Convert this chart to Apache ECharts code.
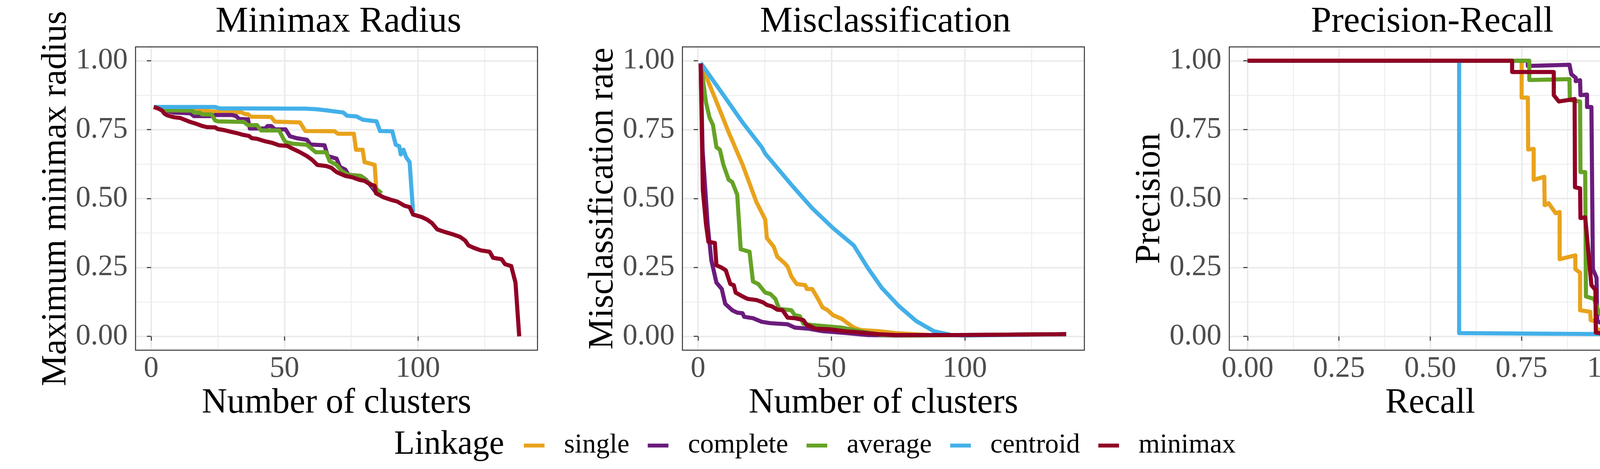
<!DOCTYPE html>
<html>
<head>
<meta charset="utf-8">
<script src="https://cdn.jsdelivr.net/npm/echarts@6/dist/echarts.min.js"></script>
<style>
  html, body { margin: 0; padding: 0; background: #fff; }
  #main { width: 4200px; height: 1200px; }
</style>
</head>
<body>
<div id="main"></div>
<script>
// linkage names + colours (legend order)
const linkages = ['single', 'complete', 'average', 'centroid', 'minimax']
const colors = ['#E8A31C', '#6B1C7C', '#66A226', '#43B0E8', '#900024']

// panel 1: maximum minimax radius vs number of clusters  [k, radius]
const radiusSingle = [[1,0.832],[16,0.82],[25,0.815],[33.8,0.813],[35.3,0.806],[36.3,0.806],[37.2,0.797],[45,0.796],[46.4,0.779],[55.8,0.776],[57.8,0.745],[68.8,0.744],[70,0.735],[76,0.735],[76.8,0.677],[79.3,0.677],[80,0.632],[83.8,0.622],[84.5,0.52]]
const radiusComplete = [[1,0.832],[5,0.82],[8.5,0.812],[14.8,0.809],[16,0.799],[23,0.799],[24,0.803],[30.4,0.803],[31.9,0.799],[32.9,0.789],[36.3,0.787],[37,0.754],[42.7,0.754],[43.7,0.763],[45,0.763],[46.4,0.751],[50.4,0.751],[52,0.726],[54.5,0.719],[58.4,0.713],[59.7,0.696],[65,0.693],[66.2,0.654],[69.5,0.645],[70.8,0.614],[72.8,0.605],[74,0.586],[78.6,0.582],[80.6,0.568],[84.5,0.52]]
const radiusAverage = [[1,0.832],[5,0.82],[15.3,0.819],[16.3,0.811],[18.2,0.811],[19.2,0.805],[22.6,0.805],[24,0.783],[25,0.78],[34.7,0.778],[36.3,0.766],[39.7,0.766],[41.2,0.747],[48,0.747],[49.5,0.718],[50.4,0.705],[53,0.699],[58.4,0.695],[61.7,0.668],[65.6,0.668],[66.9,0.636],[69.5,0.622],[71.4,0.6],[74,0.586],[78.6,0.582],[86.4,0.519]]
const radiusCentroid = [[1,0.832],[24,0.832],[25.5,0.827],[58,0.826],[62,0.824],[65.6,0.82],[72,0.812],[73.5,0.8],[77,0.798],[79.3,0.786],[84.5,0.78],[85.8,0.745],[90.4,0.744],[91.7,0.695],[93,0.69],[93.6,0.66],[94.6,0.677],[95.6,0.65],[96.9,0.632],[98.2,0.451]]
const radiusMinimax = [[1,0.832],[2.5,0.827],[4,0.82],[5,0.808],[6,0.802],[8.5,0.795],[11,0.792],[12,0.788],[13.3,0.783],[14.3,0.779],[16.3,0.773],[17.2,0.77],[19.2,0.763],[21,0.759],[24,0.758],[25,0.752],[27.5,0.748],[30,0.742],[32.3,0.737],[34,0.732],[36.7,0.727],[37.7,0.719],[39.6,0.717],[43,0.707],[45.4,0.702],[48,0.693],[51,0.691],[53,0.681],[55.8,0.668],[58.4,0.654],[60.4,0.64],[62.3,0.622],[65.6,0.618],[67.5,0.612],[69.5,0.596],[72.8,0.582],[75.4,0.577],[78,0.568],[80,0.564],[82,0.552],[83.8,0.546],[84.3,0.519],[87,0.505],[89.7,0.496],[92.3,0.489],[95,0.474],[96.9,0.469],[98.2,0.442],[101.4,0.433],[103.4,0.424],[105.3,0.411],[107.3,0.388],[110,0.379],[113.2,0.37],[115.8,0.361],[117.7,0.348],[119,0.33],[121,0.321],[123.6,0.312],[126.9,0.307],[128.2,0.285],[131.4,0.28],[132.7,0.262],[135,0.255],[136.6,0.195],[138,0]]

// panel 2: misclassification rate vs number of clusters  [k, rate]
const misSingle = [[1,0.99],[6.3,0.866],[11.5,0.74],[16.7,0.623],[21.9,0.487],[25.2,0.424],[25.8,0.357],[28.4,0.325],[29.7,0.289],[32.3,0.267],[33.6,0.253],[35,0.217],[37,0.19],[40.2,0.186],[40.8,0.172],[42.8,0.172],[44.7,0.141],[46.7,0.105],[48.6,0.095],[50.6,0.077],[53.8,0.064],[55.8,0.05],[58.4,0.032],[61,0.023],[67.5,0.019],[74,0.012],[80.6,0.008],[87,0.005],[100,0.004],[138,0.008]]
const misComplete = [[1,0.99],[1.7,0.677],[3.6,0.406],[5,0.276],[6.9,0.195],[8.9,0.172],[10.2,0.118],[12.8,0.095],[14.7,0.086],[16.7,0.084],[17.3,0.071],[20.6,0.066],[23.9,0.053],[27.1,0.048],[33.6,0.044],[36.3,0.032],[41.5,0.028],[46.7,0.019],[55.8,0.012],[63.6,0.005],[74,0.003],[138,0.008]]
const misAverage = [[1,0.99],[3,0.848],[4.3,0.794],[5.6,0.767],[6.9,0.686],[8.2,0.677],[9.5,0.623],[11.5,0.568],[12.8,0.56],[14.7,0.514],[16,0.316],[19.3,0.307],[20.6,0.199],[22.6,0.19],[25.2,0.159],[27.1,0.154],[29,0.136],[30.4,0.1],[35,0.095],[36.3,0.077],[38.2,0.073],[39.5,0.046],[42.8,0.041],[48,0.037],[53.8,0.032],[58.4,0.023],[63.6,0.014],[68.8,0.005],[80,0.003],[138,0.008]]
const misCentroid = [[1,0.992],[8.9,0.884],[16.7,0.776],[23.9,0.686],[25.2,0.663],[35,0.55],[42.8,0.465],[50.6,0.393],[58.4,0.33],[63.6,0.249],[68.8,0.177],[75.4,0.109],[81.9,0.055],[88.4,0.019],[94.9,0.005],[100,0.003],[138,0.008]]
const misMinimax = [[1,0.99],[1.8,0.532],[3,0.406],[3.9,0.343],[6.3,0.339],[6.9,0.258],[8.9,0.249],[10.4,0.24],[12.1,0.19],[13.4,0.186],[14.1,0.159],[16.7,0.145],[18.6,0.136],[21.9,0.132],[24.5,0.123],[25.8,0.114],[27.7,0.109],[29.7,0.097],[31.7,0.095],[33.6,0.068],[36.3,0.066],[39.5,0.059],[40.8,0.041],[42.1,0.037],[44,0.028],[49.3,0.026],[54.5,0.019],[61,0.014],[67.5,0.008],[74,0.005],[100,0.005],[138,0.008]]

// panel 3: precision vs recall  [recall, precision]
const prSingle = [[0,1],[0.75,1],[0.75,0.866],[0.767,0.866],[0.768,0.678],[0.783,0.68],[0.783,0.568],[0.812,0.579],[0.813,0.476],[0.824,0.483],[0.843,0.447],[0.854,0.451],[0.854,0.28],[0.897,0.294],[0.897,0.244],[0.91,0.231],[0.91,0.095],[0.938,0.089],[0.939,0.059],[0.952,0.055],[0.955,0.025],[1,0.019]]
const prComplete = [[0,1],[0.767,1],[0.767,0.981],[0.881,0.985],[0.886,0.951],[0.898,0.938],[0.898,0.926],[0.91,0.929],[0.911,0.875],[0.929,0.877],[0.929,0.832],[0.941,0.832],[0.945,0.244],[0.955,0.213],[0.957,0.055],[0.981,0.041],[0.99,0.023]]
const prAverage = [[0,1],[0.771,1],[0.771,0.93],[0.881,0.933],[0.882,0.857],[0.91,0.852],[0.911,0.596],[0.924,0.596],[0.926,0.145],[0.948,0.136],[0.962,0.086],[0.979,0.064],[0.984,0.041],[1,0.037],[1,0.01]]
const prCentroid = [[0,1],[0.579,1],[0.579,0.012],[1,0.008]]
const prMinimax = [[0,1],[0.724,1],[0.724,0.959],[0.838,0.959],[0.838,0.875],[0.852,0.852],[0.895,0.861],[0.896,0.541],[0.91,0.537],[0.911,0.429],[0.924,0.432],[0.941,0.186],[0.952,0.168],[0.953,0.014],[0.995,0.005]]

// tick labels
const clusterTicks = [0, 50, 100]
const unitTicks = [0, 0.25, 0.5, 0.75, 1]

const panelTitles = ['Minimax Radius', 'Misclassification', 'Precision-Recall']
const xNames = ['Number of clusters', 'Number of clusters', 'Recall']
const yNames = ['Maximum minimax radius', 'Misclassification rate', 'Precision']
const panelData = [
  [radiusSingle, radiusComplete, radiusAverage, radiusCentroid, radiusMinimax],
  [misSingle, misComplete, misAverage, misCentroid, misMinimax],
  [prSingle, prComplete, prAverage, prCentroid, prMinimax]
]

const FONT = 'Liberation Serif'
const gridLefts = [347, 1747, 3147]
const gridW = 1029, gridTop = 120, gridH = 776

let myChart = echarts.init(document.getElementById('main'), null, { renderer: 'canvas' })

let grids = [], xAxes = [], yAxes = [], titles = [], series = []

// 面板 + 标题
gridLefts.forEach(function (left, i) {
  grids.push({
    left: left, top: gridTop, width: gridW, height: gridH,
    show: true, z: 3, backgroundColor: 'transparent',
    borderColor: '#333333', borderWidth: 2.5,
    outerBoundsMode: 'none'
  })
  titles.push({
    text: panelTitles[i], left: left + gridW / 2, textAlign: 'center', top: 4,
    textStyle: { fontFamily: FONT, fontSize: 94, fontWeight: 'normal', color: '#000' }
  })
})

function majorAxis(i, isX) {
  let isCount = isX && i < 2
  let ticks = isCount ? clusterTicks : unitTicks
  return {
    gridIndex: i, type: 'value',
    min: isCount ? -5.85 : -0.05,
    max: isCount ? 144.85 : 1.05,
    minInterval: isCount ? 50 : 0.25,
    maxInterval: isCount ? 50 : 0.25,
    axisLine: { show: false },
    axisTick: { show: true, customValues: ticks, length: 11, lineStyle: { color: '#333333', width: 2.5 } },
    axisLabel: {
      customValues: ticks, fontFamily: FONT, fontSize: 76, color: '#4D4D4D', margin: isX ? 10 : 20,
      formatter: function (v) { return isCount ? String(v) : v.toFixed(2) }
    },
    splitLine: { show: true, lineStyle: { color: '#EBEBEB', width: 4 } },
    name: isX ? xNames[i] : yNames[i],
    nameLocation: 'middle',
    nameGap: isX ? 80 : 158,
    nameTextStyle: { fontFamily: FONT, fontSize: 90, color: '#000' }
  }
}

// 次网格线 (minor grid)
function minorAxis(i, isX) {
  let isCount = isX && i < 2
  return {
    gridIndex: i, type: 'value',
    min: isCount ? -5.85 : -0.05,
    max: isCount ? 144.85 : 1.05,
    minInterval: isCount ? 25 : 0.125,
    maxInterval: isCount ? 25 : 0.125,
    axisLine: { show: false }, axisTick: { show: false }, axisLabel: { show: false },
    splitLine: { show: true, lineStyle: { color: '#EBEBEB', width: 2 } }
  }
}

for (let i = 0; i < 3; i++) { xAxes.push(majorAxis(i, true)); yAxes.push(majorAxis(i, false)) }
for (let i = 0; i < 3; i++) { xAxes.push(minorAxis(i, true)); yAxes.push(minorAxis(i, false)) }

panelData.forEach(function (lines, i) {
  lines.forEach(function (pts, j) {
    series.push({
      name: linkages[j], type: 'line', xAxisIndex: i, yAxisIndex: i,
      data: pts, showSymbol: false, symbol: 'none', z: 2 + j * 0.01,
      lineStyle: { color: colors[j], width: 10.5, cap: 'butt', join: 'round' },
      itemStyle: { color: colors[j] },
      emphasis: { disabled: true }
    })
  })
})

// legend title
titles.push({
  text: 'Linkage', left: 1004, top: 1090,
  textStyle: { fontFamily: FONT, fontSize: 86, fontWeight: 'normal', color: '#000' }
})

let option = {
  animation: false,
  backgroundColor: '#ffffff',
  title: titles,
  legend: {
    data: linkages, left: 1336, top: 1100, orient: 'horizontal',
    icon: 'rect', itemWidth: 53, itemHeight: 10, itemGap: 47,
    textStyle: { fontFamily: FONT, fontSize: 70, color: '#000', padding: [0, 0, 0, 45] },
    selectedMode: false
  },
  grid: grids,
  xAxis: xAxes,
  yAxis: yAxes,
  series: series
}
myChart.setOption(option)
</script>
</body>
</html>
